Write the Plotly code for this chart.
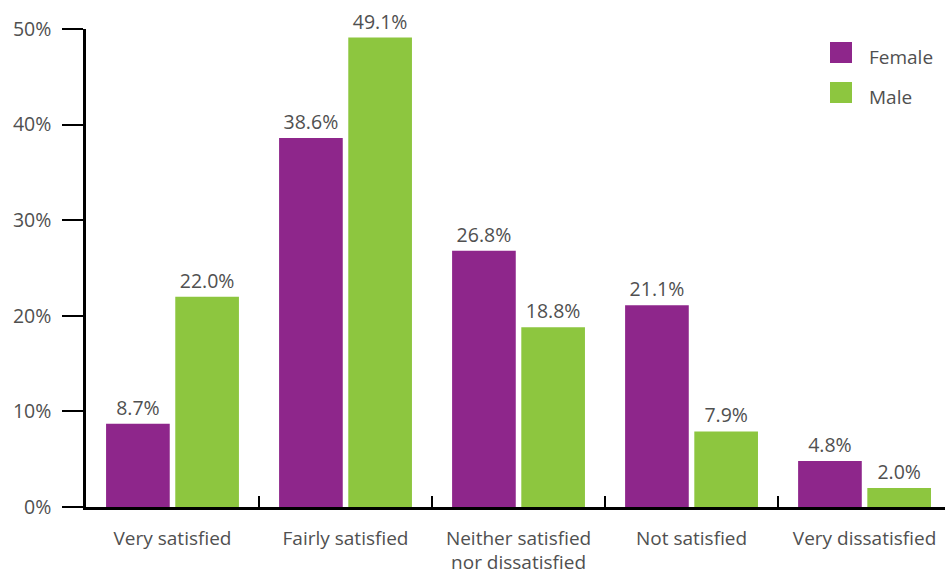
import plotly.graph_objects as go

# Satisfaction survey results by gender (percent of respondents)
categories = ["Very satisfied", "Fairly satisfied", "Neither satisfied<br>nor dissatisfied",
              "Not satisfied", "Very dissatisfied"]
female = [8.7, 38.6, 26.8, 21.1, 4.8]
male = [22.0, 49.1, 18.8, 7.9, 2.0]
y_ticks = [0, 10, 20, 30, 40, 50]
y_tick_labels = ["0%", "10%", "20%", "30%", "40%", "50%"]

PURPLE = "#8E268B"
GREEN = "#8DC63F"
TEXT = "#505050"
FONT = "Open Sans"

fig = go.Figure()
for name, vals, color in [("Female", female, PURPLE), ("Male", male, GREEN)]:
    fig.add_trace(go.Bar(
        x=categories, y=vals, name=name,
        marker=dict(color=color, line=dict(width=0)),
        texttemplate="%{y:.1f}%", textposition="outside",
        textfont=dict(family=FONT, size=19.5, color=TEXT),
        cliponaxis=False, constraintext="none",
        showlegend=False,
    ))

# Legend: colour swatches with labels in the upper right
for i, (name, color) in enumerate([("Female", PURPLE), ("Male", GREEN)]):
    y0 = 42 + i * 40
    fig.add_shape(type="rect", xref="paper", yref="paper",
                  x0=(830 - 86) / 859, x1=(852 - 86) / 859,
                  y0=1 - (y0 + 21 - 29) / 478, y1=1 - (y0 - 29) / 478,
                  fillcolor=color, line=dict(width=0))
    fig.add_annotation(text=name, xref="paper", yref="paper",
                       x=(867 - 86) / 859, y=1 - (y0 + 15 - 29) / 478,
                       xanchor="left", yanchor="middle", showarrow=False,
                       font=dict(family=FONT, size=19, color=TEXT))

fig.update_layout(
    width=945, height=574,
    margin=dict(l=86, r=0, t=29, b=67),
    paper_bgcolor="white", plot_bgcolor="white",
    barmode="group", bargap=0.2, bargroupgap=0.08,
    font=dict(family=FONT, size=19, color=TEXT),
)
fig.update_xaxes(
    range=[-0.5, 4.465], showgrid=False, zeroline=False, automargin=False,
    showline=True, linecolor="black", linewidth=2.5,
    ticks="inside", tickson="boundaries", ticklen=11, tickwidth=2, tickcolor="black",
    ticklabelstandoff=12,
    tickfont=dict(family=FONT, size=19, color=TEXT),
)
fig.update_yaxes(
    range=[0, 50], tickvals=y_ticks, ticktext=y_tick_labels,
    showgrid=False, zeroline=False, automargin=False,
    showline=True, linecolor="black", linewidth=2.5,
    ticks="outside", ticklen=21, tickwidth=2, tickcolor="black",
    ticklabelstandoff=7,
    tickfont=dict(family=FONT, size=19.5, color=TEXT),
)

fig.write_html("out.html")
